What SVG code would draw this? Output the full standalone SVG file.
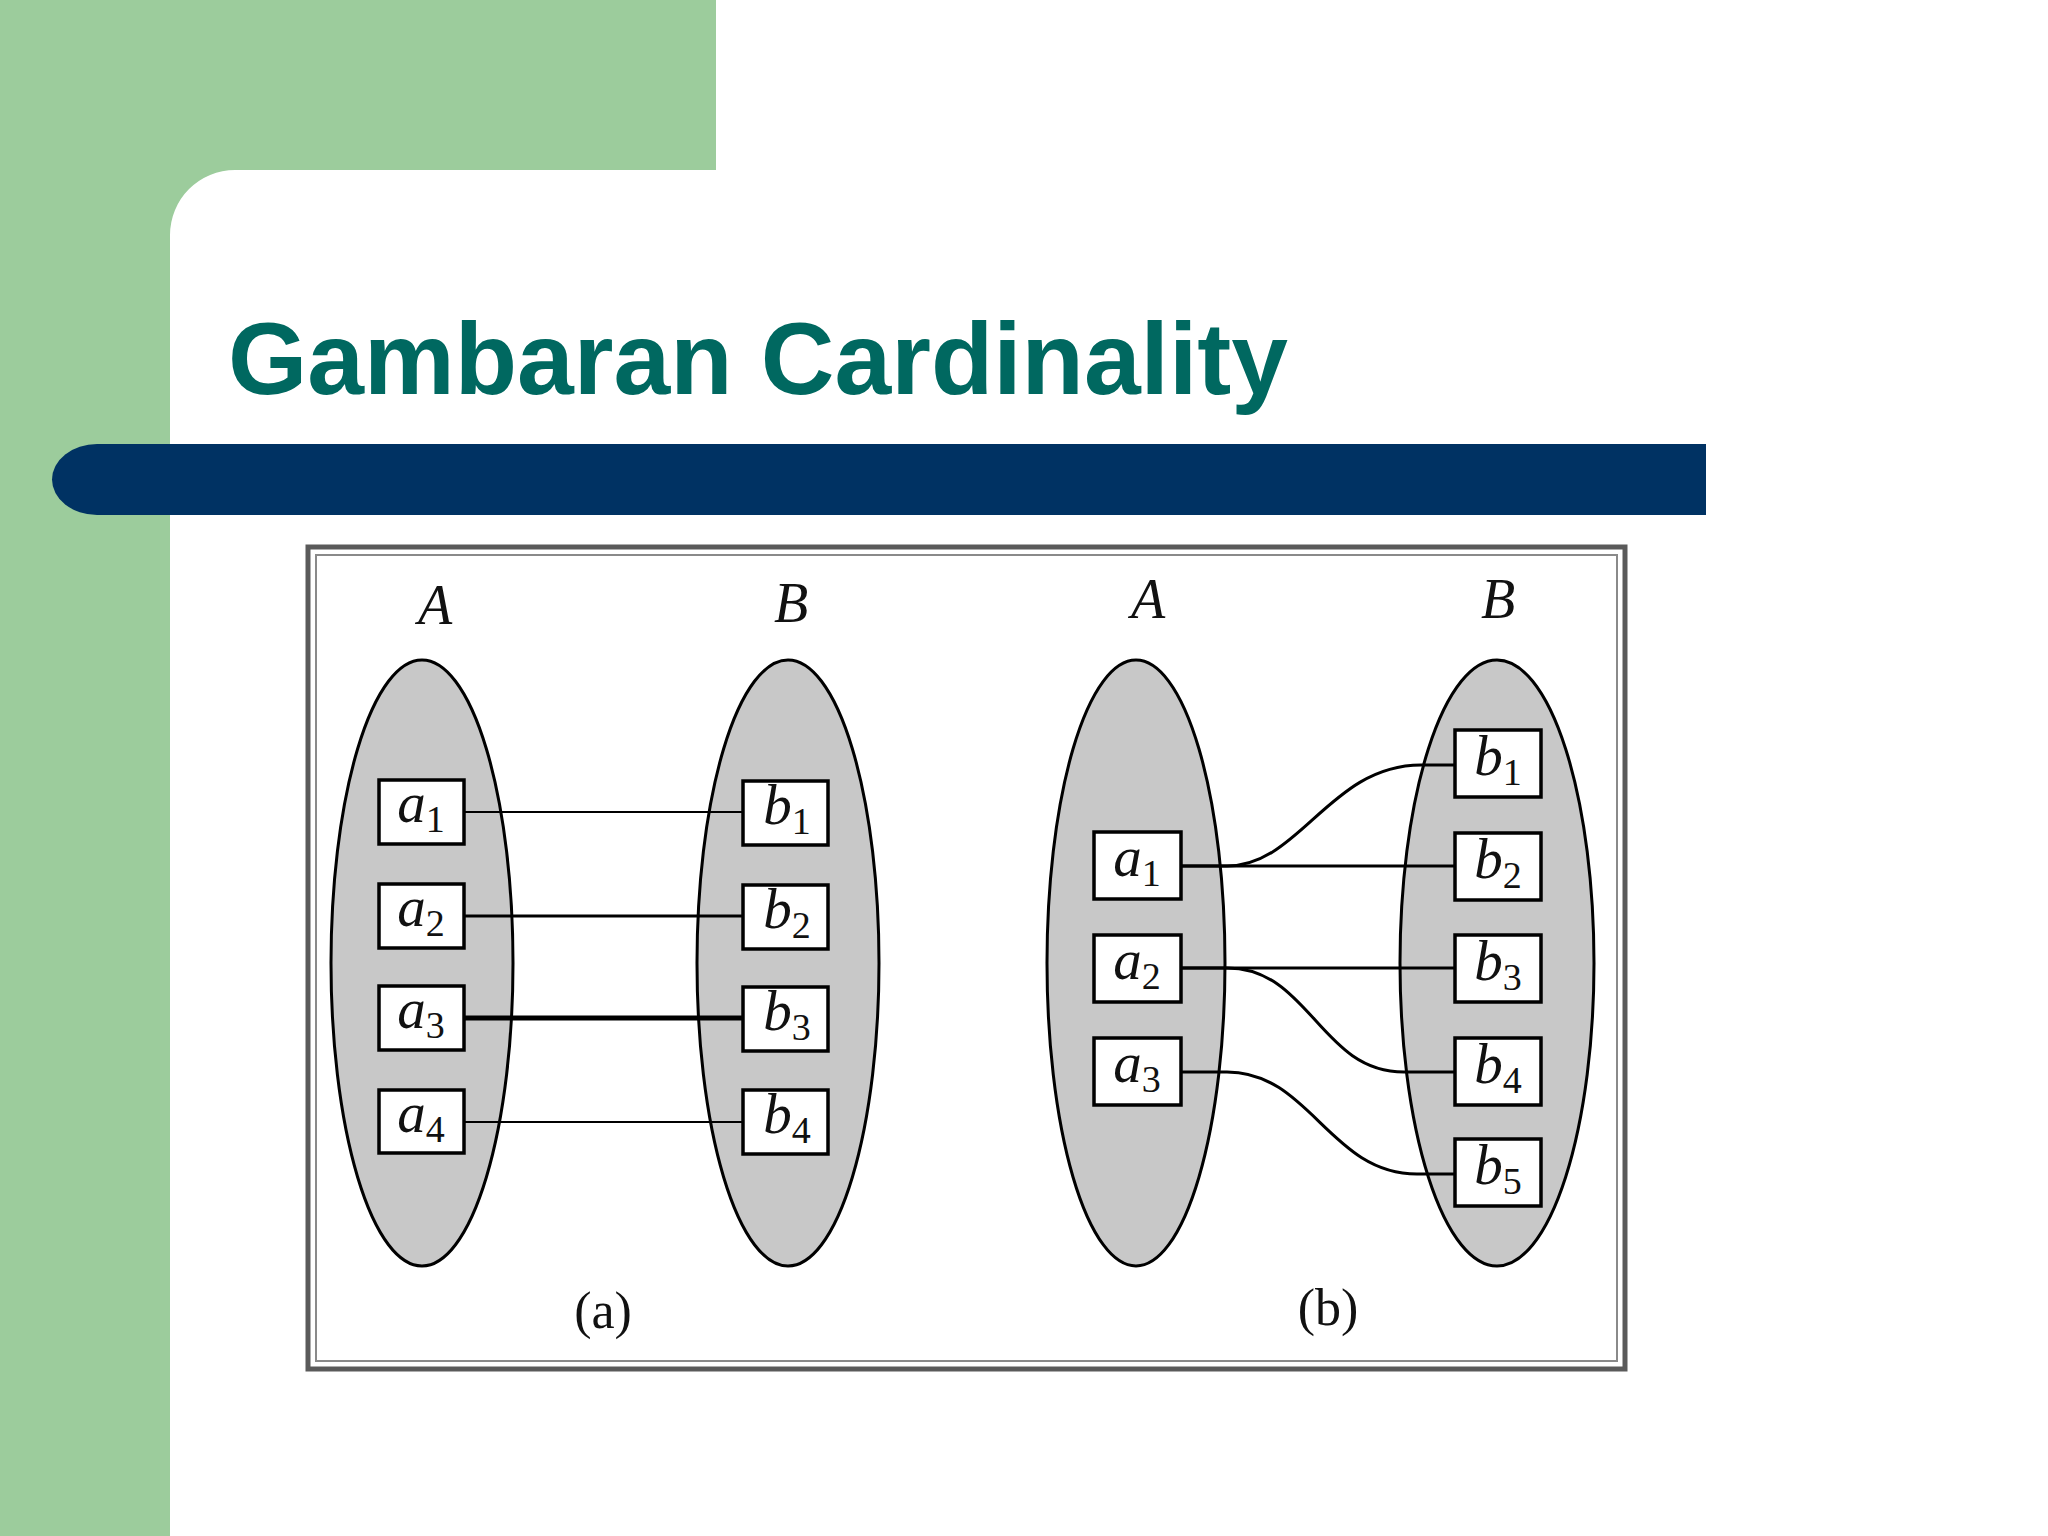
<svg xmlns="http://www.w3.org/2000/svg" width="2048" height="1536" viewBox="0 0 2048 1536">
<defs>
<style>
.bg-green{fill:#9ccc9c}
.title{font-family:"Liberation Sans",Arial,sans-serif;font-weight:bold;font-size:102px;fill:#006860}
.set{fill:#c8c8c8;stroke:#000;stroke-width:3}
.box{fill:#fff;stroke:#000;stroke-width:3.5}
.lbl{font-family:"Liberation Serif","Times New Roman",serif;font-size:57px;fill:#111}
.it{font-style:italic}
.sub{font-size:38px}
.setname{font-family:"Liberation Serif","Times New Roman",serif;font-style:italic;font-size:56px;fill:#111}
.cap{font-family:"Liberation Serif","Times New Roman",serif;font-size:52px;fill:#111}
.conn{fill:none;stroke:#000;stroke-width:3}
</style>
</defs>
<rect width="2048" height="1536" fill="#fff"/>
<rect class="bg-green" x="0" y="0" width="716" height="170"/>
<rect class="bg-green" x="0" y="0" width="170" height="1536"/>
<path class="bg-green" d="M170,170 H235 A65,65 0 0 0 170,235 Z"/>
<text class="title" x="228" y="394">Gambaran Cardinality</text>
<path d="M97,444 H1706 V515 H97 A45,35.5 0 0 1 97,444 Z" fill="#003263"/>

<g id="frame">
<rect x="308" y="547" width="1317" height="822" fill="#fff" stroke="#5a5a5a" stroke-width="5"/>
<rect x="316" y="555" width="1301" height="806" fill="none" stroke="#8a8a8a" stroke-width="2"/>
</g>

<!-- Panel (a) -->
<g id="setA_a"><ellipse class="set" cx="422" cy="963" rx="91" ry="303"/><text class="setname" x="435" y="624" text-anchor="middle">A</text></g>
<g id="setB_a"><ellipse class="set" cx="788" cy="963" rx="91" ry="303"/><text class="setname" x="791" y="622" text-anchor="middle">B</text></g>

<g id="connectors_a" stroke="#000" fill="none">
<line x1="464" y1="812" x2="743" y2="812" stroke-width="2"/>
<line x1="464" y1="916" x2="743" y2="916" stroke-width="3"/>
<line x1="464" y1="1018" x2="743" y2="1018" stroke-width="5"/>
<line x1="464" y1="1122" x2="743" y2="1122" stroke-width="2"/>
</g>

<g id="a_a1"><rect class="box" x="379" y="780" width="85" height="64"/><text class="lbl" x="421" y="822" text-anchor="middle"><tspan class="it">a</tspan><tspan class="sub" dy="10">1</tspan></text></g>
<g id="a_a2"><rect class="box" x="379" y="884" width="85" height="64"/><text class="lbl" x="421" y="926" text-anchor="middle"><tspan class="it">a</tspan><tspan class="sub" dy="10">2</tspan></text></g>
<g id="a_a3"><rect class="box" x="379" y="986" width="85" height="64"/><text class="lbl" x="421" y="1028" text-anchor="middle"><tspan class="it">a</tspan><tspan class="sub" dy="10">3</tspan></text></g>
<g id="a_a4"><rect class="box" x="379" y="1090" width="85" height="63"/><text class="lbl" x="421" y="1132" text-anchor="middle"><tspan class="it">a</tspan><tspan class="sub" dy="10">4</tspan></text></g>

<g id="a_b1"><rect class="box" x="743" y="781" width="85" height="64"/><text class="lbl" x="787" y="824" text-anchor="middle"><tspan class="it">b</tspan><tspan class="sub" dy="10">1</tspan></text></g>
<g id="a_b2"><rect class="box" x="743" y="885" width="85" height="64"/><text class="lbl" x="787" y="928" text-anchor="middle"><tspan class="it">b</tspan><tspan class="sub" dy="10">2</tspan></text></g>
<g id="a_b3"><rect class="box" x="743" y="987" width="85" height="64"/><text class="lbl" x="787" y="1030" text-anchor="middle"><tspan class="it">b</tspan><tspan class="sub" dy="10">3</tspan></text></g>
<g id="a_b4"><rect class="box" x="743" y="1090" width="85" height="64"/><text class="lbl" x="787" y="1133" text-anchor="middle"><tspan class="it">b</tspan><tspan class="sub" dy="10">4</tspan></text></g>

<text class="cap" x="603" y="1328" text-anchor="middle">(a)</text>

<!-- Panel (b) -->
<g id="setA_b"><ellipse class="set" cx="1136" cy="963" rx="89" ry="303"/><text class="setname" x="1148" y="618" text-anchor="middle">A</text></g>
<g id="setB_b"><ellipse class="set" cx="1497" cy="963" rx="97" ry="303"/><text class="setname" x="1498" y="618" text-anchor="middle">B</text></g>

<g id="connectors_b">
<path class="conn" d="M1181,866 H1227 C1300,866 1330,765 1421,765 H1455"/>
<line class="conn" x1="1181" y1="866" x2="1455" y2="866"/>
<line class="conn" x1="1181" y1="968" x2="1455" y2="968"/>
<path class="conn" d="M1181,968 H1227 C1310,968 1320,1072 1404,1072 H1455"/>
<path class="conn" d="M1181,1072 H1227 C1310,1072 1330,1174 1417,1174 H1455"/>
</g>

<g id="b_a1"><rect class="box" x="1094" y="832" width="87" height="67"/><text class="lbl" x="1137" y="876" text-anchor="middle"><tspan class="it">a</tspan><tspan class="sub" dy="10">1</tspan></text></g>
<g id="b_a2"><rect class="box" x="1094" y="935" width="87" height="67"/><text class="lbl" x="1137" y="979" text-anchor="middle"><tspan class="it">a</tspan><tspan class="sub" dy="10">2</tspan></text></g>
<g id="b_a3"><rect class="box" x="1094" y="1038" width="87" height="67"/><text class="lbl" x="1137" y="1082" text-anchor="middle"><tspan class="it">a</tspan><tspan class="sub" dy="10">3</tspan></text></g>

<g id="b_b1"><rect class="box" x="1455" y="730" width="86" height="67"/><text class="lbl" x="1498" y="775" text-anchor="middle"><tspan class="it">b</tspan><tspan class="sub" dy="10">1</tspan></text></g>
<g id="b_b2"><rect class="box" x="1455" y="833" width="86" height="67"/><text class="lbl" x="1498" y="878" text-anchor="middle"><tspan class="it">b</tspan><tspan class="sub" dy="10">2</tspan></text></g>
<g id="b_b3"><rect class="box" x="1455" y="935" width="86" height="67"/><text class="lbl" x="1498" y="980" text-anchor="middle"><tspan class="it">b</tspan><tspan class="sub" dy="10">3</tspan></text></g>
<g id="b_b4"><rect class="box" x="1455" y="1038" width="86" height="67"/><text class="lbl" x="1498" y="1083" text-anchor="middle"><tspan class="it">b</tspan><tspan class="sub" dy="10">4</tspan></text></g>
<g id="b_b5"><rect class="box" x="1455" y="1139" width="86" height="67"/><text class="lbl" x="1498" y="1184" text-anchor="middle"><tspan class="it">b</tspan><tspan class="sub" dy="10">5</tspan></text></g>

<text class="cap" x="1328" y="1325" text-anchor="middle">(b)</text>
</svg>
